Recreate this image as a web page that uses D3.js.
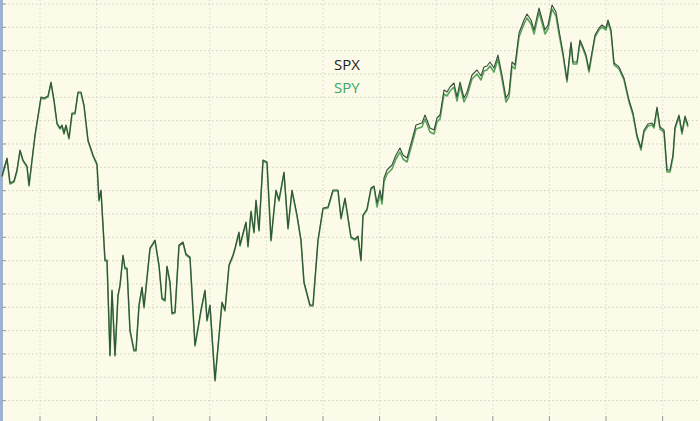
<!DOCTYPE html>
<html lang="en">
<head>
<meta charset="UTF-8">
<script src="https://d3js.org/d3.v7.min.js"></script>
<style>
  body { margin: 0; background: #fcfae8; }
  svg { display: block; }
</style>
</head>
<body>
<svg width="700" height="421"></svg>
<script>
// trading day index and SPX level (chart units)
const days = [2,7,10,14,17,20,23,27,29,35,41,44,48,51,54,57,60,62,64,66,69,72,75,78,81,84,88,93,97,99,101,105,107,110,112,115,118,120,123,125,127,130,134,136,139,142,144,150,155,159,162,165,167,170,172,175,179,183,186,190,195,198,201,205,207,210,215,222,225,229,233,235,239,240,242,246,248,251,254,256,259,263,267,271,276,279,284,288,292,294,297,301,304,310,313,318,323,328,333,338,341,345,351,355,358,361,363,367,371,374,377,380,382,384,387,392,396,400,403,407,412,416,422,425,430,434,437,440,444,447,450,454,457,460,464,467,472,477,481,484,487,490,494,498,502,506,509,512,515,519,524,527,531,534,539,545,548,552,556,559,563,567,571,573,577,580,583,586,589,591,595,599,602,606,608,611,614,619,624,629,633,637,641,644,648,652,654,657,660,664,667,670,673,675,679,682,685,688];
const spxPix = [176,158,183,181,170,150,160,166,185,135,97,98,96,82,100,123,128,125,133,125,138,113,113,92,92,105,140,155,164,200,190,260,260,355,290,355,295,285,255,268,268,330,350,350,305,287,307,248,240,265,298,300,266,282,313,312,245,242,254,257,345,328,310,290,320,305,380,302,310,265,255,248,232,245,237,222,246,211,232,200,230,160,162,240,190,200,172,228,190,200,215,240,282,305,305,240,208,207,190,190,218,198,237,239,236,260,215,209,188,186,203,190,200,178,170,165,155,148,155,158,140,125,123,115,128,130,118,115,90,92,87,83,97,82,98,92,75,70,76,67,66,62,68,55,75,98,93,62,65,33,20,14,20,30,8,30,25,5,12,30,53,80,42,62,62,40,47,55,70,58,35,28,25,28,20,30,63,67,78,100,113,135,148,130,124,123,126,107,127,130,170,170,155,127,115,132,116,125];
const spx = spxPix.map(p => 420 - p);
// SPY tracking gap below SPX, by day range
const spyGap = [[0, 1], [375, 4], [560, 2]];
const spy = spx.map((v, i) => v - spyGap.filter(g => days[i] >= g[0]).pop()[1]);

const W = 700, H = 421;
const svg = d3.select("svg");
const x = d3.scaleLinear().domain([0, 700]).range([0, W]);
const y = d3.scaleLinear().domain([0, 420]).range([420, 0]);

svg.append("rect").attr("width", W).attr("height", H).attr("fill", "#fcfae8");

const hLines = d3.range(18).map(i => 4 + i * 23.33);
const vLines = d3.range(12).map(i => 40 + i * 56.6);
svg.append("g").selectAll("line").data(hLines).join("line")
  .attr("x1", 4).attr("x2", W).attr("y1", d => d).attr("y2", d => d)
  .attr("stroke", "#cfcfc0").attr("stroke-dasharray", "1.5,2.5");
svg.append("g").selectAll("line").data(vLines).join("line")
  .attr("y1", 0).attr("y2", 415).attr("x1", d => d).attr("x2", d => d)
  .attr("stroke", "#d8d8c8").attr("stroke-dasharray", "1.5,2.5");
// left axis and ticks
svg.append("line").attr("x1", 1.5).attr("x2", 1.5).attr("y1", 0).attr("y2", H)
  .attr("stroke", "#9cb2d2").attr("stroke-width", 3);
svg.append("g").selectAll("line").data(hLines).join("line")
  .attr("x1", 2).attr("x2", 6).attr("y1", d => d).attr("y2", d => d).attr("stroke", "#999");
svg.append("g").selectAll("line").data(vLines).join("line")
  .attr("y1", 416).attr("y2", 421).attr("x1", d => d).attr("x2", d => d).attr("stroke", "#999");

const line = d3.line().x((d, i) => x(days[i])).y(d => y(d));
svg.append("path").datum(spy).attr("d", line).attr("fill", "none")
  .attr("stroke", "#5aa35c").attr("stroke-width", 1.6).attr("stroke-linejoin", "round");
svg.append("path").datum(spx).attr("d", line).attr("fill", "none")
  .attr("stroke", "#34503a").attr("stroke-width", 1.1).attr("stroke-linejoin", "round");

svg.append("text").attr("x", 334).attr("y", 70).text("SPX")
  .attr("font-family", "Open Sans").attr("font-size", 15).attr("fill", "#222");
svg.append("text").attr("x", 334).attr("y", 93).text("SPY")
  .attr("font-family", "Open Sans").attr("font-size", 15).attr("fill", "#3aa866");
</script>
</body>
</html>
